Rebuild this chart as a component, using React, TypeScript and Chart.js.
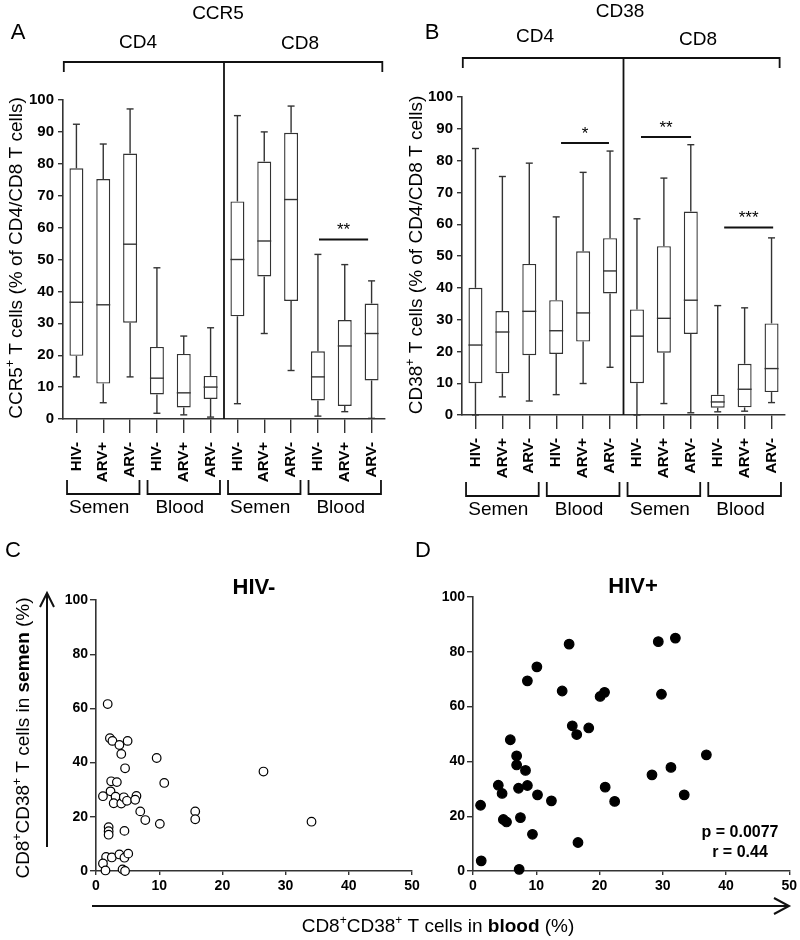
import React, { useEffect, useRef } from 'react';
import { Chart, registerables } from 'chart.js';
Chart.register(...registerables);

const FONT = '"Liberation Sans", Arial, Helvetica, sans-serif';
const LINE = '#333';

// ---------- Box plot data ----------
const boxCategories = ['HIV-', 'ARV+', 'ARV-', 'HIV-', 'ARV+', 'ARV-', 'HIV-', 'ARV+', 'ARV-', 'HIV-', 'ARV+', 'ARV-'];
const groupNames = ['Semen', 'Blood', 'Semen', 'Blood'];

const ccr5Min = [13.2, 5.1, 13.2, 1.8, 1.3, 0.6, 4.8, 26.8, 15.2, 0.9, 2.3, 0.2];
const ccr5Q1 = [19.8, 11.1, 30.2, 7.7, 3.6, 6.3, 32.2, 44.7, 37.0, 5.8, 4.1, 12.1];
const ccr5Median = [36.6, 35.8, 54.8, 12.8, 8.2, 10.0, 50.0, 55.8, 68.8, 13.2, 22.9, 26.8];
const ccr5Q3 = [78.6, 75.2, 83.2, 22.6, 20.4, 13.5, 68.2, 80.7, 89.7, 21.2, 31.0, 36.2];
const ccr5Max = [92.4, 86.2, 97.2, 47.4, 26.0, 28.6, 95.1, 90.0, 98.1, 51.6, 48.4, 43.3];

const cd38Min = [0, 5.7, 4.4, 6.4, 9.9, 15.0, 0, 3.6, 0.7, 1.0, 1.2, 3.9];
const cd38Q1 = [10.0, 13.1, 18.8, 19.2, 23.1, 38.2, 10.0, 19.6, 25.5, 2.3, 2.4, 7.2];
const cd38Median = [22.0, 26.1, 32.6, 26.5, 32.1, 45.3, 24.8, 30.4, 36.1, 4.1, 8.1, 14.6];
const cd38Q3 = [40.0, 32.7, 47.5, 36.1, 51.5, 55.6, 33.2, 53.1, 64.0, 6.4, 16.1, 28.8];
const cd38Max = [83.8, 75.0, 79.2, 62.3, 76.3, 83.0, 61.7, 74.5, 85.0, 34.4, 33.7, 55.7];

const ccr5SigLabels = ['**'];
const ccr5SigFrom = [9.04];
const ccr5SigTo = [10.87];
const ccr5SigY = [56.3];

const cd38SigLabels = ['*', '**', '***'];
const cd38SigFrom = [3.18, 6.15, 9.24];
const cd38SigTo = [4.96, 8.01, 11.06];
const cd38SigY = [85.5, 87.4, 59.0];

// ---------- Scatter data ----------
const hivNegBlood = [1.85, 2.2, 2.6, 3.7, 4.0, 5.0, 4.6, 9.6, 10.8, 26.5, 2.4, 3.3, 1.1, 2.3, 3.1, 2.8, 4.0, 4.4, 4.9, 6.4, 6.2, 7.0, 7.8, 10.1, 15.7, 15.7, 34.1, 2.0, 2.0, 2.0, 4.5, 1.6, 2.5, 3.7, 4.5, 5.1, 1.1, 1.5, 4.2, 4.6];
const hivNegSemen = [61.6, 49.0, 48.0, 46.5, 43.2, 48.0, 37.9, 41.7, 32.5, 36.7, 33.1, 32.8, 27.6, 29.4, 27.4, 25.0, 24.9, 27.2, 25.9, 27.7, 26.3, 22.0, 18.8, 17.4, 22.0, 19.1, 18.2, 16.2, 14.7, 13.4, 14.8, 5.2, 5.0, 6.1, 4.9, 6.4, 2.8, 0.2, 0.6, 0.0];

const hivPosBlood = [1.2, 1.3, 4.0, 4.6, 4.8, 5.3, 5.9, 6.9, 6.9, 7.2, 8.3, 8.6, 7.5, 7.3, 8.6, 10.1, 10.2, 9.4, 12.4, 14.1, 15.2, 15.7, 16.4, 16.6, 18.3, 20.1, 20.8, 20.9, 22.4, 28.3, 29.3, 29.8, 31.3, 32.0, 33.4, 36.9];
const hivPosSemen = [24.0, 3.7, 31.3, 28.3, 18.8, 17.9, 47.9, 42.0, 38.7, 30.2, 36.7, 31.2, 19.5, 0.6, 69.4, 74.5, 27.8, 13.4, 25.6, 65.7, 82.8, 53.0, 49.8, 10.4, 52.2, 63.7, 65.2, 30.6, 25.4, 35.1, 83.7, 64.5, 37.8, 85.0, 27.8, 42.4];

const correlationLines = ['p = 0.0077', 'r = 0.44'];

// ---------- helpers ----------
type Seg = { t: string; b?: boolean; sup?: boolean };

function drawRich(ctx: CanvasRenderingContext2D, segs: Seg[], x: number, y: number, size: number, rotate = false) {
  ctx.save();
  ctx.translate(x, y);
  if (rotate) ctx.rotate(-Math.PI / 2);
  const fontFor = (s: Seg) => `${s.b ? 'bold ' : ''}${s.sup ? Math.round(size * 0.62) : size}px ${FONT}`;
  let total = 0;
  for (const s of segs) {
    ctx.font = fontFor(s);
    total += ctx.measureText(s.t).width;
  }
  let cx = -total / 2;
  ctx.textBaseline = 'middle';
  ctx.textAlign = 'left';
  ctx.fillStyle = '#000';
  for (const s of segs) {
    ctx.font = fontFor(s);
    ctx.fillText(s.t, cx, s.sup ? -size * 0.32 : 0);
    cx += ctx.measureText(s.t).width;
  }
  ctx.restore();
}

function text(ctx: CanvasRenderingContext2D, t: string, x: number, y: number, size: number, bold = false) {
  ctx.save();
  ctx.font = `${bold ? 'bold ' : ''}${size}px ${FONT}`;
  ctx.fillStyle = '#000';
  ctx.textAlign = 'center';
  ctx.textBaseline = 'middle';
  ctx.fillText(t, x, y);
  ctx.restore();
}

function line(ctx: CanvasRenderingContext2D, pts: number[][], width = 1.5, color = LINE) {
  ctx.save();
  ctx.strokeStyle = color;
  ctx.lineWidth = width;
  ctx.beginPath();
  pts.forEach((p, i) => (i === 0 ? ctx.moveTo(p[0], p[1]) : ctx.lineTo(p[0], p[1])));
  ctx.stroke();
  ctx.restore();
}

interface BoxPanel {
  id: string;
  min: number[]; q1: number[]; med: number[]; q3: number[]; max: number[];
  sigLabels: string[]; sigFrom: number[]; sigTo: number[]; sigY: number[];
  area: { left: number; top: number; right: number; bottom: number };
  padLeft: number;
  letter: string; letterPos: number[];
  marker: string; markerPos: number[];
  cd4Pos: number[]; cd8Pos: number[];
  bracketY: number; bracketFrom: number; bracketTo: number;
  dividerTop: number;
  yTitle: Seg[]; yTitlePos: number[];
  groupTop: number; groupBottom: number; groupText: number;
}

function makeBox(canvas: HTMLCanvasElement, p: BoxPanel) {
  const plugin = {
    id: 'boxdraw' + p.id,
    afterDatasetsDraw(chart: any) {
      const ctx: CanvasRenderingContext2D = chart.ctx;
      const ys = chart.scales.y;
      const meta = chart.getDatasetMeta(0);
      const cap = 3.5;
      p.med.forEach((m, i) => {
        const el = meta.data[i];
        const x = el.x;
        const w = el.width;
        const yMax = ys.getPixelForValue(p.max[i]);
        const yQ3 = ys.getPixelForValue(p.q3[i]);
        const yQ1 = ys.getPixelForValue(p.q1[i]);
        const yMin = ys.getPixelForValue(p.min[i]);
        const yMed = ys.getPixelForValue(m);
        line(ctx, [[x, yMax], [x, yQ3]], 1.4);
        line(ctx, [[x - cap, yMax], [x + cap, yMax]], 1.4);
        line(ctx, [[x, yQ1], [x, yMin]], 1.4);
        line(ctx, [[x - cap, yMin], [x + cap, yMin]], 1.4);
        line(ctx, [[x - w / 2, yMed], [x + w / 2, yMed]], 1.4);
      });
    },
    afterDraw(chart: any) {
      const ctx: CanvasRenderingContext2D = chart.ctx;
      const xs = chart.scales.x;
      const ys = chart.scales.y;
      const X = (v: number) => xs.getPixelForValue(v);
      text(ctx, p.letter, p.letterPos[0], p.letterPos[1], 22);
      text(ctx, p.marker, p.markerPos[0], p.markerPos[1], 19);
      text(ctx, 'CD4', p.cd4Pos[0], p.cd4Pos[1], 19);
      text(ctx, 'CD8', p.cd8Pos[0], p.cd8Pos[1], 19);
      // top bracket
      const bl = X(p.bracketFrom), br = X(p.bracketTo);
      line(ctx, [[bl, p.bracketY + 10], [bl, p.bracketY], [br, p.bracketY], [br, p.bracketY + 10]], 1.8, '#111');
      // divider
      const dx = X(5.5);
      line(ctx, [[dx, p.dividerTop], [dx, chart.chartArea.bottom]], 1.8, '#111');
      // significance
      p.sigLabels.forEach((s, i) => {
        const y = ys.getPixelForValue(p.sigY[i]);
        const a = X(p.sigFrom[i]), b = X(p.sigTo[i]);
        line(ctx, [[a, y], [b, y]], 2, '#111');
        ctx.save();
        ctx.font = `17px ${FONT}`;
        ctx.fillStyle = '#000';
        ctx.textAlign = 'center';
        ctx.textBaseline = 'alphabetic';
        ctx.fillText(s, (a + b) / 2, y - 4);
        ctx.restore();
      });
      // group brackets
      groupNames.forEach((g, gi) => {
        const a = X(gi * 3 - 0.35), b = X(gi * 3 + 2.35);
        line(ctx, [[a, p.groupTop], [a, p.groupBottom], [b, p.groupBottom], [b, p.groupTop]], 1.8, '#111');
        text(ctx, g, X(gi * 3 + 0.85), p.groupText, 19);
      });
      drawRich(ctx, p.yTitle, p.yTitlePos[0], p.yTitlePos[1], 19, true);
    },
  };
  const a = p.area;
  return new Chart(canvas, {
    type: 'bar',
    data: {
      labels: boxCategories,
      datasets: [
        {
          data: p.q1.map((v, i) => [v, p.q3[i]]) as any,
          backgroundColor: '#fff',
          borderColor: LINE,
          borderWidth: 1.4,
          borderSkipped: false,
          barPercentage: 0.52,
          categoryPercentage: 1,
        },
      ],
    },
    options: {
      responsive: false,
      animation: false,
      devicePixelRatio: 1,
      layout: { padding: { left: p.padLeft, top: a.top, right: 800 - a.right, bottom: 940 - a.bottom - 70 } },
      plugins: { legend: { display: false }, tooltip: { enabled: false } },
      scales: {
        x: {
          type: 'category',
          offset: true,
          grid: { display: true, offset: false, drawOnChartArea: false, drawTicks: true, tickLength: 14, color: LINE, lineWidth: 1.4 },
          border: { display: true, color: LINE, width: 1.6 },
          ticks: { autoSkip: false, minRotation: 90, maxRotation: 90, padding: 9, color: '#000', font: { family: FONT, size: 15, weight: 'bold' } },
          afterFit: (s: any) => { s.height = 70; },
        },
        y: {
          min: 0,
          max: 100,
          grid: { drawOnChartArea: false, drawTicks: true, tickLength: 5, color: LINE, lineWidth: 1.4 },
          border: { display: true, color: LINE, width: 1.6 },
          ticks: { stepSize: 10, padding: 4, color: '#000', font: { family: FONT, size: 15, weight: 'bold' } },
          afterFit: (s: any) => { s.width = a.left - p.padLeft; },
        },
      },
    } as any,
    plugins: [plugin],
  });
}

interface ScatterPanel {
  id: string;
  xs: number[]; ys: number[];
  filled: boolean;
  area: { left: number; top: number; right: number; bottom: number };
  padLeft: number;
  draw: (ctx: CanvasRenderingContext2D, chart: any) => void;
}

function makeScatter(canvas: HTMLCanvasElement, p: ScatterPanel) {
  const a = p.area;
  const plugin = {
    id: 'scat' + p.id,
    afterDraw(chart: any) {
      p.draw(chart.ctx, chart);
    },
  };
  return new Chart(canvas, {
    type: 'scatter',
    data: {
      datasets: [
        {
          data: p.xs.map((x, i) => ({ x, y: p.ys[i] })),
          pointRadius: p.filled ? 4.8 : 4.3,
          pointBackgroundColor: p.filled ? '#000' : '#fff',
          pointBorderColor: '#000',
          pointBorderWidth: 1.2,
          clip: false,
        } as any,
      ],
    },
    options: {
      responsive: false,
      animation: false,
      devicePixelRatio: 1,
      layout: { padding: { left: p.padLeft, top: a.top, right: 800 - a.right, bottom: 940 - a.bottom - 30 } },
      plugins: { legend: { display: false }, tooltip: { enabled: false } },
      scales: {
        x: {
          type: 'linear',
          min: 0,
          max: 50,
          grid: { drawOnChartArea: false, drawTicks: true, tickLength: 4, color: LINE, lineWidth: 1.4 },
          border: { display: true, color: LINE, width: 1.6 },
          ticks: { stepSize: 10, padding: 3, color: '#000', font: { family: FONT, size: 14, weight: 'bold' } },
          afterFit: (s: any) => { s.height = 30; },
        },
        y: {
          min: 0,
          max: 100,
          grid: { drawOnChartArea: false, drawTicks: true, tickLength: 6, color: LINE, lineWidth: 1.4 },
          border: { display: true, color: LINE, width: 1.6 },
          ticks: { stepSize: 20, padding: 2, color: '#000', font: { family: FONT, size: 14, weight: 'bold' } },
          afterFit: (s: any) => { s.width = a.left - p.padLeft; },
        },
      },
    } as any,
    plugins: [plugin],
  });
}

const panelA: BoxPanel = {
  id: 'A',
  min: ccr5Min, q1: ccr5Q1, med: ccr5Median, q3: ccr5Q3, max: ccr5Max,
  sigLabels: ccr5SigLabels, sigFrom: ccr5SigFrom, sigTo: ccr5SigTo, sigY: ccr5SigY,
  area: { left: 63, top: 100, right: 385, bottom: 419 },
  padLeft: 0,
  letter: 'A', letterPos: [18, 33],
  marker: 'CCR5', markerPos: [218, 14],
  cd4Pos: [138, 43], cd8Pos: [300, 44],
  bracketY: 62, bracketFrom: -0.47, bracketTo: 11.4,
  dividerTop: 62,
  yTitle: [{ t: 'CCR5' }, { t: '+', sup: true }, { t: ' T cells (% of CD4/CD8 T cells)' }],
  yTitlePos: [17, 258],
  groupTop: 480, groupBottom: 494, groupText: 508,
};

const panelB: BoxPanel = {
  id: 'B',
  min: cd38Min, q1: cd38Q1, med: cd38Median, q3: cd38Q3, max: cd38Max,
  sigLabels: cd38SigLabels, sigFrom: cd38SigFrom, sigTo: cd38SigTo, sigY: cd38SigY,
  area: { left: 462, top: 97, right: 785, bottom: 415 },
  padLeft: 400,
  letter: 'B', letterPos: [432, 33],
  marker: 'CD38', markerPos: [620, 12],
  cd4Pos: [535, 37], cd8Pos: [698, 40],
  bracketY: 58, bracketFrom: -0.47, bracketTo: 11.3,
  dividerTop: 58,
  yTitle: [{ t: 'CD38' }, { t: '+', sup: true }, { t: ' T cells (% of CD4/CD8 T cells)' }],
  yTitlePos: [417, 255],
  groupTop: 482, groupBottom: 496, groupText: 510,
};

const panelC: ScatterPanel = {
  id: 'C',
  xs: hivNegBlood, ys: hivNegSemen, filled: false,
  area: { left: 96, top: 600, right: 412, bottom: 871 },
  padLeft: 0,
  draw: (ctx) => {
    text(ctx, 'C', 13, 551, 22);
    text(ctx, 'HIV-', 254, 588, 22, true);
    // y arrow
    line(ctx, [[47, 847], [47, 594]], 2, '#111');
    line(ctx, [[40, 607], [47, 593], [54, 607]], 2, '#111');
    drawRich(ctx, [{ t: 'CD8' }, { t: '+', sup: true }, { t: 'CD38' }, { t: '+', sup: true }, { t: ' T cells in ' }, { t: 'semen', b: true }, { t: ' (%)' }], 24, 738, 19, true);
    // x arrow
    line(ctx, [[92, 906], [788, 906]], 2, '#111');
    line(ctx, [[774, 898], [789, 906], [774, 914]], 2, '#111');
    drawRich(ctx, [{ t: 'CD8' }, { t: '+', sup: true }, { t: 'CD38' }, { t: '+', sup: true }, { t: ' T cells in ' }, { t: 'blood', b: true }, { t: ' (%)' }], 438, 927, 19, false);
  },
};

const panelD: ScatterPanel = {
  id: 'D',
  xs: hivPosBlood, ys: hivPosSemen, filled: true,
  area: { left: 473, top: 597, right: 792, bottom: 871 },
  padLeft: 400,
  draw: (ctx) => {
    text(ctx, 'D', 423, 551, 22);
    text(ctx, 'HIV+', 633, 587, 22, true);
    text(ctx, correlationLines[0], 740, 833, 16, true);
    text(ctx, correlationLines[1], 740, 853, 16, true);
  },
};

export default function App() {
  const r0 = useRef<HTMLCanvasElement>(null);
  const r1 = useRef<HTMLCanvasElement>(null);
  const r2 = useRef<HTMLCanvasElement>(null);
  const r3 = useRef<HTMLCanvasElement>(null);
  useEffect(() => {
    const charts = [
      makeBox(r0.current!, panelA),
      makeBox(r1.current!, panelB),
      makeScatter(r2.current!, panelC),
      makeScatter(r3.current!, panelD),
    ];
    return () => charts.forEach((c) => c.destroy());
  }, []);
  const st: React.CSSProperties = { position: 'absolute', left: 0, top: 0, width: 800, height: 940 };
  return (
    <div style={{ position: 'absolute', left: 0, top: 0, width: 800, height: 940, background: '#fff' }}>
      <canvas ref={r0} width={800} height={940} style={st} />
      <canvas ref={r1} width={800} height={940} style={st} />
      <canvas ref={r2} width={800} height={940} style={st} />
      <canvas ref={r3} width={800} height={940} style={st} />
    </div>
  );
}
